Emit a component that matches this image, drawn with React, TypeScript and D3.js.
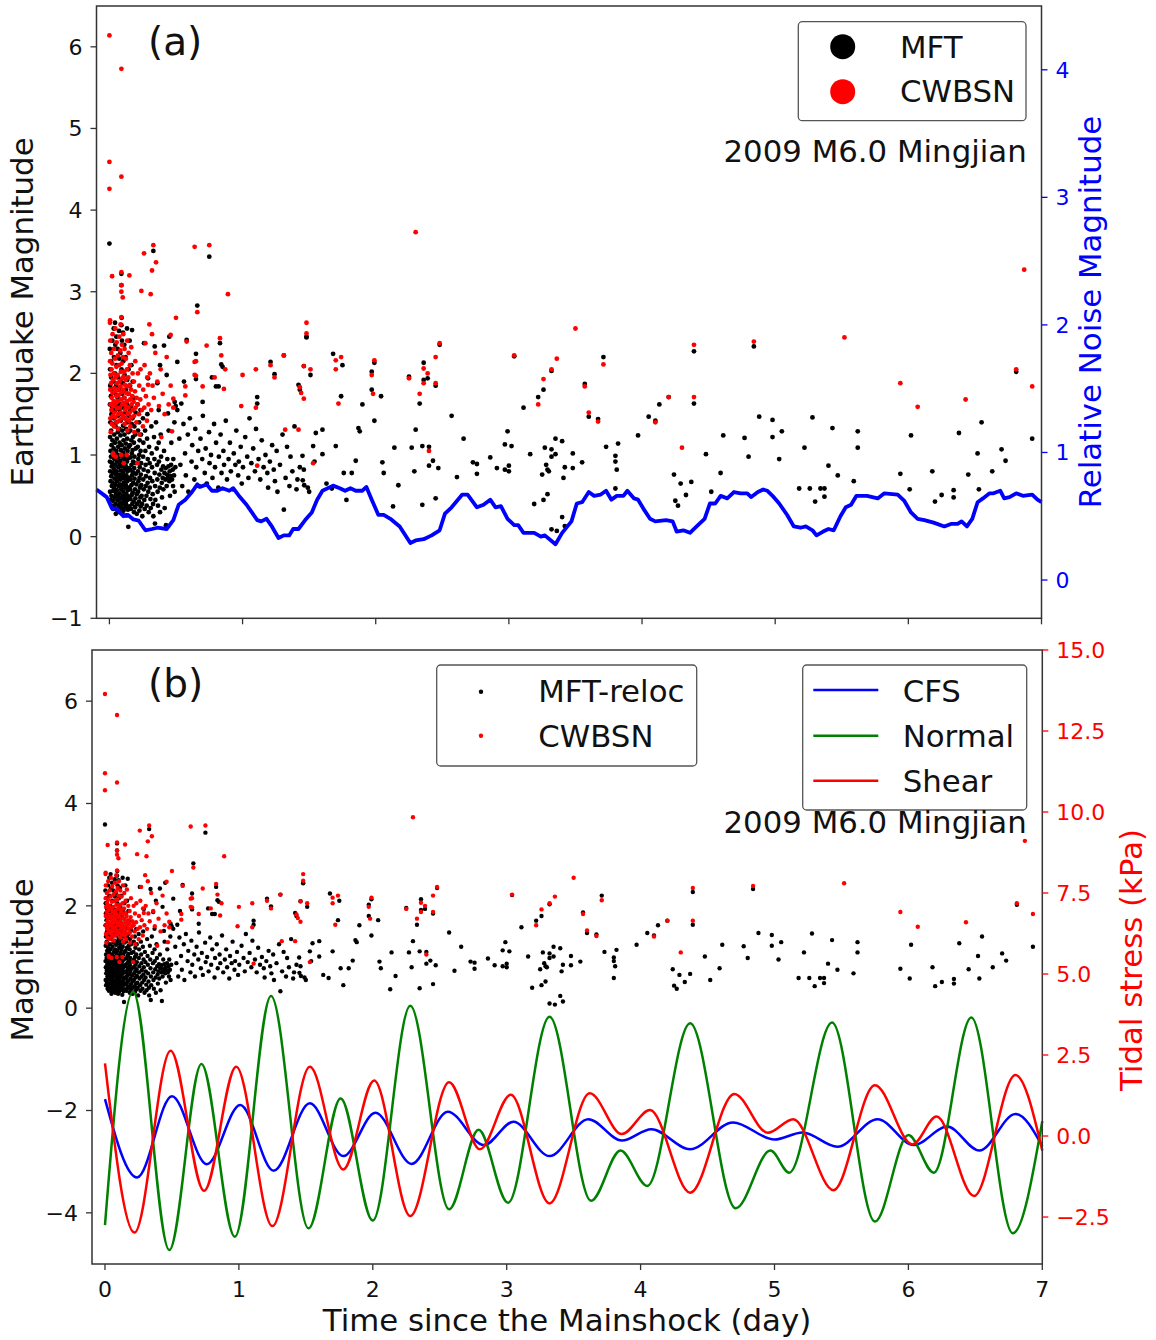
import React from 'react';
import * as d3 from 'd3';

const FONT = "'DejaVu Sans', 'Liberation Sans', sans-serif";
const BLUE = '#0000ff';
const RED = '#ff0000';
const GREEN = '#008000';

// ---------- tick labels ----------
const magTicksA = [-1, 0, 1, 2, 3, 4, 5, 6];
const noiseTicks = [0, 1, 2, 3, 4];
const dayTicks = [0, 1, 2, 3, 4, 5, 6, 7];
const magTicksB = [-4, -2, 0, 2, 4, 6];
const stressTicks = [-2.5, 0, 2.5, 5, 7.5, 10, 12.5, 15];

// ---------- MFT catalogue (time in days, magnitude) ----------
const mftCluster: [number, number][] = [
  [0.003,2.30],[0.005,2.05],[0.006,1.85],[0.004,1.62],[0.007,1.40],[0.005,1.22],[0.008,1.05],[0.004,0.92],[0.006,0.80],[0.009,0.68],[0.005,0.55],[0.008,0.45],
  [0.012,2.15],[0.014,1.95],[0.011,1.72],[0.015,1.50],[0.013,1.30],[0.016,1.12],[0.012,0.98],[0.017,0.86],[0.014,0.74],[0.018,0.62],[0.015,0.50],[0.019,0.38],
  [0.022,2.40],[0.024,1.80],[0.021,1.58],[0.025,1.38],[0.023,1.18],[0.026,1.02],[0.022,0.90],[0.027,0.78],[0.024,0.66],[0.028,0.56],[0.025,0.44],[0.029,0.34],
  [0.032,2.55],[0.034,2.20],[0.031,1.90],[0.035,1.65],[0.033,1.45],[0.036,1.25],[0.032,1.08],[0.037,0.95],[0.034,0.83],[0.038,0.71],[0.035,0.60],[0.039,0.48],[0.036,0.36],
  [0.042,2.62],[0.044,2.35],[0.041,2.00],[0.045,1.75],[0.043,1.55],[0.046,1.35],[0.042,1.15],[0.047,1.00],[0.044,0.88],[0.048,0.76],[0.045,0.64],[0.049,0.52],[0.046,0.40],[0.048,0.28],
  [0.052,2.45],[0.054,2.10],[0.051,1.85],[0.055,1.60],[0.053,1.40],[0.056,1.20],[0.052,1.05],[0.057,0.92],[0.054,0.80],[0.058,0.68],[0.055,0.57],[0.059,0.45],[0.056,0.33],
  [0.062,2.30],[0.064,1.95],[0.061,1.70],[0.065,1.48],[0.063,1.28],[0.066,1.10],[0.062,0.97],[0.067,0.85],[0.064,0.73],[0.068,0.62],[0.065,0.50],[0.069,0.38],
  [0.072,2.52],[0.074,2.18],[0.071,1.80],[0.075,1.55],[0.073,1.32],[0.076,1.15],[0.072,1.00],[0.077,0.88],[0.074,0.76],[0.078,0.64],[0.075,0.53],[0.079,0.42],[0.076,0.30],
  [0.082,2.25],[0.084,1.90],[0.081,1.62],[0.085,1.42],[0.083,1.24],[0.086,1.06],[0.082,0.93],[0.087,0.81],[0.084,0.70],[0.088,0.58],[0.085,0.47],[0.089,0.35],
  [0.092,2.68],[0.094,2.40],[0.091,2.05],[0.095,1.75],[0.093,1.50],[0.096,1.30],[0.092,1.12],[0.097,0.98],[0.094,0.86],[0.098,0.74],[0.095,0.62],[0.099,0.50],[0.096,0.40],[0.098,0.28],
  [0.102,2.50],[0.104,2.15],[0.101,1.88],[0.105,1.58],[0.103,1.36],[0.106,1.18],[0.102,1.03],[0.107,0.90],[0.104,0.78],[0.108,0.66],[0.105,0.55],[0.109,0.44],[0.106,0.32],
  [0.112,2.35],[0.114,1.98],[0.111,1.70],[0.115,1.45],[0.113,1.25],[0.116,1.08],[0.112,0.95],[0.117,0.83],[0.114,0.71],[0.118,0.60],[0.115,0.48],[0.119,0.36],
  [0.122,2.20],[0.124,1.80],[0.121,1.52],[0.125,1.32],[0.123,1.14],[0.126,1.00],[0.122,0.87],[0.127,0.75],[0.124,0.63],[0.128,0.52],[0.125,0.40],[0.129,0.26],
  [0.132,2.55],[0.134,1.92],[0.131,1.62],[0.135,1.40],[0.133,1.20],[0.136,1.05],[0.132,0.92],[0.137,0.80],[0.134,0.68],[0.138,0.57],[0.135,0.45],[0.139,0.33],
  [0.142,0.12],[0.144,2.05],[0.141,1.75],[0.145,1.48],[0.143,1.28],[0.146,1.10],[0.142,0.96],[0.147,0.84],[0.144,0.72],[0.148,0.60],[0.145,0.49],[0.149,0.37],
  [0.152,2.40],[0.155,1.85],[0.153,1.55],[0.157,1.30],[0.154,1.12],[0.158,0.97],[0.156,0.82],[0.159,0.70],[0.155,0.58],[0.158,0.46],[0.162,0.34],
  [0.165,2.10],[0.163,1.60],[0.167,1.38],[0.164,1.18],[0.168,1.02],[0.166,0.88],[0.169,0.75],[0.165,0.63],[0.168,0.51],[0.172,0.40],
  [0.175,1.90],[0.173,1.45],[0.177,1.22],[0.174,1.06],[0.178,0.92],[0.176,0.79],[0.179,0.66],[0.175,0.54],[0.182,0.43],[0.185,0.30],
  [0.183,1.70],[0.187,1.35],[0.184,1.15],[0.188,0.98],[0.186,0.84],[0.189,0.71],[0.192,0.58],[0.195,0.47],[0.193,0.36],
  [0.197,1.52],[0.194,1.25],[0.198,1.08],[0.196,0.90],[0.199,0.77],[0.203,0.64],[0.205,0.52],[0.208,0.40],[0.206,0.28],
  [0.212,1.62],[0.215,1.30],[0.213,1.10],[0.217,0.95],[0.214,0.80],[0.218,0.68],[0.216,0.55],[0.222,0.43],[0.225,0.32],
  [0.223,1.40],[0.227,1.18],[0.224,1.00],[0.228,0.85],[0.226,0.72],[0.229,0.60],[0.232,0.48],[0.235,0.37],
  [0.233,1.55],[0.237,1.25],[0.234,1.05],[0.238,0.90],[0.236,0.76],[0.239,0.63],[0.242,0.50],[0.245,0.40],[0.247,0.25],
  [0.252,1.45],[0.255,1.15],[0.253,0.98],[0.257,0.82],[0.254,0.70],[0.258,0.58],[0.262,0.45],[0.265,0.34],
  [0.268,1.30],[0.270,1.05],[0.272,0.88],[0.275,0.74],[0.273,0.62],[0.278,0.50],[0.280,0.38],
  [0.285,1.50],[0.283,1.20],[0.288,0.95],[0.290,0.80],[0.287,0.66],[0.292,0.55],[0.295,0.30],
  [0.298,1.10],[0.302,0.90],[0.305,0.72],[0.303,0.60],[0.308,0.46],[0.310,0.35],
  [0.315,1.35],[0.318,1.02],[0.320,0.85],[0.322,0.68],[0.325,0.52],[0.328,0.40],[0.330,0.25],
  [0.335,1.22],[0.338,0.95],[0.340,0.78],[0.343,0.62],[0.345,0.45],[0.342,0.16],
  [0.350,1.40],[0.355,1.08],[0.358,0.88],[0.360,0.70],[0.362,0.55],[0.365,0.38],
  [0.370,1.15],[0.372,0.92],[0.375,0.76],[0.378,0.60],[0.380,0.30],
  [0.385,1.25],[0.388,0.98],[0.390,0.82],[0.393,0.66],[0.395,0.48],
  [0.400,0.72],[0.403,0.86],[0.405,0.58],[0.410,1.05],[0.413,0.78],[0.415,0.35],
  [0.420,0.70],[0.423,0.84],[0.425,0.14],[0.430,0.62],[0.433,0.76],[0.435,0.95],
  [0.440,0.72],[0.443,0.86],[0.445,1.30],[0.450,0.68],[0.453,0.80],[0.455,0.50],
  [0.460,0.74],[0.463,0.88],[0.465,1.15],[0.470,0.70],[0.475,0.82],[0.478,0.62],
  [0.480,0.95],[0.485,0.75],[0.488,1.40],[0.490,0.55],[0.495,0.85],[0.498,1.60],
];

const mftSparse: [number, number][] = [
  [0.0,3.59],[0.09,3.22],[0.09,3.08],[0.33,3.50],[0.75,3.43],[0.66,2.83],[0.09,2.59],[0.17,2.53],
  [0.26,2.37],[0.34,2.33],[0.41,2.34],[0.45,2.45],[0.38,2.10],[0.51,2.14],[0.29,1.94],[0.36,1.88],[0.43,1.98],[0.49,1.65],[0.54,1.63],[0.44,1.51],[0.37,1.55],
  [0.58,2.41],[0.65,2.24],[0.65,1.93],[0.56,1.90],[0.77,1.95],[0.80,1.84],[0.82,1.84],[0.85,2.08],[0.70,1.65],[0.83,2.37],[0.84,2.11],
  [0.51,1.55],[0.525,1.20],[0.533,0.88],[0.547,0.62],[0.556,1.38],[0.568,1.02],[0.574,0.75],[0.589,1.25],[0.593,0.55],[0.604,1.45],[0.617,0.92],[0.622,1.12],
  [0.638,0.70],[0.645,1.32],[0.652,0.85],[0.667,1.05],[0.672,0.62],[0.684,1.20],[0.697,0.95],[0.702,1.48],[0.716,0.78],[0.723,1.08],[0.731,0.65],[0.748,1.28],
  [0.752,0.90],[0.763,1.00],[0.774,0.72],[0.786,1.38],[0.793,0.85],[0.801,1.15],[0.818,0.60],[0.822,0.98],[0.835,1.25],[0.842,0.78],[0.856,1.05],[0.861,0.88],
  [0.874,1.42],[0.883,0.70],[0.895,0.95],[0.905,1.15],[0.912,0.80],[0.928,0.58],[0.934,1.02],[0.946,0.88],[0.953,1.30],[0.967,0.75],[0.972,0.92],[0.986,1.10],
  [0.994,0.65],[1.003,0.85],[1.02,1.22],[1.035,0.98],[1.044,0.72],[1.052,1.45],[1.066,0.90],[1.08,1.08],[1.093,0.80],[1.101,1.32],[1.12,0.95],[1.133,0.70],
  [1.11,1.71],[1.11,1.63],[1.21,2.14],[1.24,1.99],[1.31,2.22],[1.42,1.86],[1.43,1.80],[1.46,2.09],[1.51,1.98],[1.48,2.44],[1.48,2.45],
  [1.144,1.18],[1.158,0.85],[1.172,1.00],[1.186,0.78],[1.192,0.60],[1.205,0.92],[1.222,1.12],[1.234,0.82],[1.243,0.68],[1.256,1.05],[1.262,0.55],[1.281,0.88],
  [1.30,1.25],[1.31,0.33],[1.323,0.72],[1.334,1.10],[1.352,0.62],[1.36,0.98],[1.374,0.80],[1.39,1.35],[1.405,0.58],[1.412,0.70],[1.43,0.85],[1.45,0.99],
  [1.46,0.82],[1.452,0.69],[1.463,0.63],[1.49,0.60],[1.50,0.55],[1.53,1.11],[1.54,0.92],[1.55,1.27],[1.60,1.31],[1.60,1.01],[1.63,0.65],[1.67,0.59],
  [1.70,1.11],[1.76,0.78],[1.78,0.45],[1.82,0.78],[1.85,0.93],[1.87,1.33],[1.88,1.29],[1.90,1.62],[1.99,1.42],[2.04,1.72],[1.97,1.80],
  [1.68,2.24],[1.75,2.10],[1.74,1.72],[1.97,2.02],[1.99,2.13],
  [2.05,0.91],[2.06,0.78],[2.17,0.63],[2.13,0.37],[2.14,1.09],[2.25,1.96],[2.30,1.31],[2.33,1.63],[2.27,1.09],[2.29,0.80],[2.35,0.39],[2.35,1.11],
  [2.36,2.13],[2.39,1.94],[2.36,1.92],[2.45,1.85],[2.48,2.35],[2.40,1.10],[2.43,0.93],[2.40,0.87],[2.47,0.84],[2.45,0.47],[2.57,1.48],[2.66,1.20],
  [2.61,0.73],[2.73,0.91],[2.76,0.89],[2.76,0.77],[2.86,0.97],[2.91,0.84],[2.97,0.82],[3.00,0.80],[3.00,0.87],[2.99,1.29],[2.97,1.13],[3.02,1.11],
  [3.04,2.21],[3.11,1.58],[3.16,1.01],[3.19,0.40],[3.22,1.71],[3.26,1.80],[3.32,2.03],[3.27,1.09],[3.25,0.76],[3.26,0.45],[3.29,0.52],[3.28,0.88],
  [3.29,0.82],[3.30,0.80],[3.32,1.07],[3.35,1.20],[3.40,1.17],[3.32,0.98],[3.35,1.01],[3.42,0.85],[3.41,0.72],[3.48,1.02],[3.48,0.84],[3.55,0.91],
  [3.40,0.24],[3.32,0.09],[3.36,0.07],[3.42,0.13],[3.57,1.87],[3.60,1.47],[3.67,1.44],[3.71,2.20],[3.73,1.10],[3.82,1.14],[3.80,0.99],[3.80,0.92],
  [3.81,0.82],[3.80,0.59],[3.97,1.24],[4.05,1.47],[4.10,1.42],[4.13,1.62],[4.20,1.71],[4.24,0.76],[4.29,0.65],[4.33,0.51],[4.37,0.67],[4.25,0.44],
  [4.27,0.38],[4.39,2.27],[4.39,1.63],[4.48,1.01],[4.59,0.78],[4.52,0.55],[4.61,1.24],[4.77,1.21],[4.80,0.98],[4.84,2.33],[4.88,1.47],[4.98,1.43],
  [4.98,1.22],[5.05,1.29],[5.03,0.95],[5.18,0.59],[5.28,1.46],[5.22,1.09],[5.43,1.33],[5.62,1.29],[5.62,1.09],[5.40,0.87],[5.47,0.75],[5.59,0.68],
  [5.26,0.59],[5.30,0.43],[5.34,0.59],[5.37,0.59],[5.37,0.49],[6.02,1.24],[5.94,0.77],[6.01,0.58],[6.18,0.80],[6.20,0.43],[6.25,0.51],[6.34,0.57],
  [6.34,0.48],[6.38,1.27],[6.45,0.76],[6.52,1.02],[6.55,1.40],[6.53,0.58],[6.63,0.80],[6.70,1.07],[6.73,0.93],[6.81,2.02],[6.93,1.20],
];

// ---------- CWBSN catalogue ----------
const cwbCluster: [number, number][] = [
  [0.004,2.62],[0.006,2.40],[0.005,2.15],[0.008,1.98],[0.006,1.80],[0.009,1.62],[0.007,1.45],[0.010,1.28],
  [0.014,2.25],[0.016,2.05],[0.013,1.88],[0.017,1.70],[0.015,1.55],[0.018,1.38],
  [0.024,2.48],[0.022,2.12],[0.026,1.92],[0.023,1.76],[0.027,1.60],[0.025,1.48],[0.028,1.02],
  [0.034,2.30],[0.032,2.00],[0.036,1.82],[0.033,1.66],[0.037,1.52],[0.035,1.35],
  [0.044,2.55],[0.042,2.18],[0.046,1.95],[0.043,1.78],[0.047,1.63],[0.045,1.46],[0.048,0.98],
  [0.054,2.38],[0.052,2.08],[0.056,1.88],[0.053,1.72],[0.057,1.57],[0.055,1.40],
  [0.064,2.22],[0.062,1.98],[0.066,1.80],[0.063,1.66],[0.067,1.50],[0.065,1.32],
  [0.074,2.45],[0.072,2.10],[0.076,1.90],[0.073,1.74],[0.077,1.58],[0.075,1.42],
  [0.084,2.60],[0.082,2.28],[0.086,2.02],[0.083,1.84],[0.087,1.68],[0.085,1.52],[0.088,1.00],
  [0.094,2.35],[0.092,2.12],[0.096,1.94],[0.093,1.77],[0.097,1.62],[0.095,1.45],
  [0.104,2.48],[0.102,2.20],[0.106,1.96],[0.103,1.80],[0.107,1.64],[0.105,1.48],[0.108,0.90],
  [0.114,2.30],[0.112,2.02],[0.116,1.86],[0.113,1.70],[0.117,1.55],[0.115,1.38],
  [0.124,2.18],[0.122,1.92],[0.126,1.76],[0.123,1.60],[0.127,1.44],
  [0.134,2.40],[0.132,2.05],[0.136,1.84],[0.133,1.66],[0.137,1.50],[0.135,1.30],
  [0.144,2.25],[0.142,1.95],[0.146,1.75],[0.143,1.58],[0.147,1.42],
  [0.154,2.10],[0.152,1.86],[0.156,1.68],[0.153,1.52],[0.157,1.35],
  [0.164,2.32],[0.162,1.80],[0.166,1.62],[0.163,1.46],
  [0.174,2.00],[0.172,1.72],[0.176,1.55],[0.184,1.90],[0.182,1.65],[0.186,1.48],[0.188,1.28],
  [0.194,2.15],[0.192,1.78],[0.196,1.58],[0.204,1.70],[0.202,1.40],[0.214,2.00],[0.212,1.62],
  [0.224,1.85],[0.222,1.50],[0.226,1.25],[0.234,2.05],[0.232,1.68],[0.244,1.55],[0.254,1.80],[0.252,1.35],
  [0.264,2.10],[0.262,1.58],[0.274,1.72],[0.284,1.95],[0.282,1.42],[0.294,1.62],[0.304,2.00],[0.314,1.55],
  [0.324,1.85],[0.334,1.70],[0.345,2.25],[0.360,1.90],[0.372,1.60],[0.385,2.05],[0.400,1.75],[0.415,1.50],
  [0.430,2.20],[0.445,1.62],[0.460,1.85],[0.480,1.58],[0.39,1.22],[0.47,1.29],[0.21,0.90],[0.03,1.00],[0.13,1.00],
];

const cwbSparse: [number, number][] = [
  [0.0,6.14],[0.09,5.73],[0.0,4.59],[0.0,4.26],[0.09,4.41],[0.02,3.19],[0.09,3.24],[0.15,3.20],[0.09,3.08],[0.09,3.00],[0.10,2.93],
  [0.26,3.47],[0.33,3.57],[0.35,3.36],[0.32,3.26],[0.31,2.97],[0.24,3.01],[0.64,3.55],[0.75,3.57],[0.89,2.97],[0.66,2.75],[0.50,2.68],
  [0.005,2.65],[0.09,2.69],[0.30,2.60],[0.32,2.48],[0.27,2.37],[0.46,2.47],[0.58,2.39],[0.83,2.43],[0.84,2.22],[0.73,2.34],[0.65,2.15],
  [0.65,1.97],[0.79,1.95],[0.86,1.81],[0.87,2.05],[0.57,1.84],[0.70,1.84],[0.64,2.14],[0.64,1.98],[0.57,1.73],[0.29,1.86],[0.48,1.69],
  [1.00,1.98],[0.99,1.60],[1.10,2.05],[1.10,1.58],[1.21,2.10],[1.24,1.95],[1.31,2.22],[1.43,1.83],[1.44,1.76],[1.46,1.69],[1.46,2.09],
  [1.51,2.05],[1.48,2.49],[1.48,2.62],[1.70,2.16],[1.74,2.20],[1.70,2.05],[1.72,1.63],[1.97,1.98],[1.99,2.16],[1.98,1.75],[1.53,0.90],
  [1.11,0.87],[1.32,1.31],[1.42,1.31],
  [2.30,3.73],[2.25,1.94],[2.33,1.75],[2.36,2.06],[2.39,2.00],[2.36,1.88],[2.45,2.20],[2.45,1.88],[2.48,2.37],[2.40,1.05],
  [3.04,2.22],[3.22,1.62],[3.26,1.93],[3.32,2.05],[3.36,2.18],[3.50,2.55],[3.57,1.84],[3.60,1.52],[3.67,1.41],[3.71,2.11],
  [4.10,1.40],[4.20,1.71],[4.30,1.09],[4.39,2.35],[4.39,1.71],[4.84,2.39],[5.52,2.44],[5.94,1.88],[6.07,1.59],[6.43,1.68],
  [6.81,2.05],[6.93,1.84],[6.87,3.27],
];

// ---------- relative noise magnitude ----------
const noise: [number, number][] = [
  [-0.097,0.71],[-0.02,0.65],[0.02,0.56],[0.05,0.56],[0.105,0.50],[0.14,0.51],[0.18,0.475],[0.22,0.465],[0.27,0.39],[0.32,0.40],[0.36,0.41],
  [0.43,0.40],[0.48,0.47],[0.52,0.59],[0.57,0.63],[0.62,0.69],[0.66,0.75],[0.68,0.73],[0.73,0.75],[0.77,0.70],[0.81,0.70],[0.85,0.72],
  [0.90,0.70],[0.93,0.72],[0.98,0.65],[1.03,0.59],[1.07,0.53],[1.11,0.47],[1.14,0.46],[1.18,0.48],[1.22,0.42],[1.27,0.33],[1.31,0.35],
  [1.35,0.35],[1.38,0.40],[1.42,0.40],[1.47,0.47],[1.52,0.53],[1.56,0.63],[1.60,0.70],[1.68,0.74],[1.73,0.72],[1.77,0.70],[1.81,0.72],
  [1.85,0.70],[1.90,0.70],[1.93,0.73],[1.97,0.63],[2.02,0.51],[2.06,0.51],[2.11,0.48],[2.18,0.42],[2.26,0.29],[2.30,0.31],[2.36,0.32],
  [2.42,0.35],[2.48,0.39],[2.52,0.52],[2.57,0.57],[2.65,0.67],[2.69,0.67],[2.76,0.57],[2.81,0.59],[2.86,0.63],[2.90,0.57],[2.94,0.58],
  [2.99,0.48],[3.04,0.43],[3.07,0.43],[3.11,0.37],[3.19,0.37],[3.24,0.34],[3.27,0.35],[3.35,0.28],[3.40,0.37],[3.47,0.46],[3.51,0.60],
  [3.55,0.61],[3.60,0.69],[3.64,0.66],[3.69,0.67],[3.73,0.70],[3.77,0.63],[3.81,0.66],[3.86,0.66],[3.89,0.70],[3.94,0.64],[3.97,0.63],
  [4.01,0.56],[4.06,0.48],[4.10,0.46],[4.18,0.47],[4.23,0.46],[4.26,0.38],[4.31,0.39],[4.36,0.37],[4.41,0.42],[4.47,0.48],[4.51,0.60],
  [4.55,0.60],[4.59,0.66],[4.64,0.64],[4.69,0.69],[4.74,0.68],[4.79,0.68],[4.82,0.65],[4.87,0.69],[4.91,0.71],[4.94,0.70],[4.98,0.66],
  [5.03,0.60],[5.09,0.51],[5.14,0.42],[5.19,0.41],[5.23,0.42],[5.28,0.39],[5.31,0.35],[5.36,0.38],[5.40,0.40],[5.44,0.39],[5.49,0.50],
  [5.53,0.57],[5.57,0.59],[5.61,0.66],[5.69,0.66],[5.77,0.64],[5.82,0.68],[5.92,0.67],[5.97,0.62],[6.02,0.53],[6.07,0.48],[6.12,0.47],
  [6.19,0.45],[6.27,0.42],[6.32,0.44],[6.37,0.44],[6.40,0.46],[6.44,0.42],[6.48,0.48],[6.52,0.61],[6.56,0.64],[6.61,0.68],[6.64,0.68],
  [6.69,0.70],[6.72,0.64],[6.76,0.65],[6.81,0.68],[6.86,0.66],[6.93,0.67],[6.97,0.63],[7.0,0.61],
];

// ---------- tidal stresses (kPa), turning points ----------
const cfs: [number, number][] = [
  [0,1.14],[0.24,-1.28],[0.50,1.23],[0.76,-0.87],[1.01,0.96],[1.26,-1.07],[1.53,1.01],[1.78,-0.62],[2.02,0.72],[2.29,-0.86],
  [2.56,0.75],[2.83,-0.28],[3.05,0.44],[3.32,-0.62],[3.61,0.52],[3.86,-0.14],[4.08,0.21],[4.37,-0.41],[4.69,0.42],[5.0,-0.11],
  [5.21,0.11],[5.47,-0.33],[5.77,0.52],[6.04,-0.28],[6.29,0.29],[6.53,-0.45],[6.80,0.68],[7.0,-0.31],
];
const normal: [number, number][] = [
  [0,-2.75],[0.21,4.45],[0.48,-3.52],[0.72,2.22],[0.97,-3.11],[1.24,4.32],[1.52,-2.85],[1.76,1.16],[2.0,-2.61],[2.28,4.02],
  [2.57,-2.26],[2.79,0.19],[3.01,-2.06],[3.32,3.68],[3.63,-2.0],[3.85,-0.45],[4.05,-1.54],[4.37,3.48],[4.71,-2.23],[4.97,-0.45],
  [5.11,-1.13],[5.43,3.50],[5.75,-2.64],[6.0,0.03],[6.19,-1.13],[6.47,3.66],[6.78,-3.0],[7.0,0.46],
];
const shear: [number, number][] = [
  [0,2.24],[0.22,-2.98],[0.49,2.63],[0.74,-1.69],[0.98,2.14],[1.25,-2.78],[1.53,2.14],[1.78,-1.03],[2.01,1.71],[2.28,-2.47],
  [2.57,1.66],[2.80,-0.41],[3.03,1.27],[3.32,-2.08],[3.62,1.32],[3.86,0.06],[4.07,0.80],[4.37,-1.75],[4.70,1.30],[4.95,0.10],
  [5.14,0.52],[5.44,-1.67],[5.75,1.57],[6.03,-0.26],[6.21,0.60],[6.49,-1.85],[6.80,1.88],[7.0,-0.45],
];

const minus = (s: string) => s.replace('-', '\u2212');

export default function App() {
  // panel (a)
  const A = { l: 96.5, r: 1041.5, t: 6, b: 618.3 };
  const xA = d3.scaleLinear().domain([-0.097, 7]).range([A.l, A.r]);
  const yA = d3.scaleLinear().domain([-1, 6.5]).range([A.b, A.t]);
  const yN = d3.scaleLinear().domain([-0.3, 4.5]).range([A.b, A.t]);
  // panel (b)
  const B = { l: 92, r: 1042.3, t: 650, b: 1264 };
  const xB = d3.scaleLinear().domain([-0.097, 7]).range([B.l, B.r]);
  const yB = d3.scaleLinear().domain([-5, 7]).range([B.b, B.t]);
  const yS = d3.scaleLinear().domain([-3.95, 15]).range([B.b, B.t]);

  const noiseLine = d3.line<[number, number]>().x(d => xA(d[0])).y(d => yN(d[1]));
  const tideLine = d3.line<[number, number]>().x(d => xB(d[0])).y(d => yS(d[1])).curve(d3.curveMonotoneX);

  const mft = [...mftCluster, ...mftSparse];
  const cwb = [...cwbCluster, ...cwbSparse];
  const tickFont = 22;
  const labFont = 30.8;
  const frame = '#333';

  return (
    <svg width={1156} height={1340} style={{ position: 'absolute', left: 0, top: 0, background: '#fff' }} fontFamily={FONT}>
      <rect x={0} y={0} width={1156} height={1340} fill="#fff" />
      {/* ===== Panel (a) ===== */}
      <g>
        {mft.map((d, i) => <circle key={'am' + i} cx={xA(d[0])} cy={yA(d[1])} r={2.4} fill="#000" />)}
        {cwb.map((d, i) => <circle key={'ac' + i} cx={xA(d[0])} cy={yA(d[1])} r={2.4} fill={RED} />)}
        <path d={noiseLine(noise) || ''} fill="none" stroke={BLUE} strokeWidth={3.8} strokeLinejoin="round" />
        <rect x={A.l} y={A.t} width={A.r - A.l} height={A.b - A.t} fill="none" stroke={frame} strokeWidth={1.5} />
        {magTicksA.map(v => (
          <g key={'ya' + v}>
            <line x1={A.l - 6} x2={A.l} y1={yA(v)} y2={yA(v)} stroke={frame} strokeWidth={1.3} />
            <text x={A.l - 14} y={yA(v)} dy="0.36em" textAnchor="end" fontSize={tickFont} fill="#111">{minus(String(v))}</text>
          </g>
        ))}
        {noiseTicks.map(v => (
          <g key={'yn' + v}>
            <line x1={A.r} x2={A.r + 6} y1={yN(v)} y2={yN(v)} stroke={BLUE} strokeWidth={1.3} />
            <text x={A.r + 14} y={yN(v)} dy="0.36em" textAnchor="start" fontSize={tickFont} fill={BLUE}>{String(v)}</text>
          </g>
        ))}
        {dayTicks.map(v => (
          <line key={'xa' + v} x1={xA(v)} x2={xA(v)} y1={A.b} y2={A.b + 6} stroke={frame} strokeWidth={1.3} />
        ))}
        <text transform={`translate(33,312) rotate(-90)`} textAnchor="middle" fontSize={labFont} fill="#111">Earthquake Magnitude</text>
        <text transform={`translate(1101,312) rotate(-90)`} textAnchor="middle" fontSize={labFont} fill={BLUE}>Relative Noise Magnitude</text>
        <text x={148} y={55} fontSize={39} fill="#111">(a)</text>
        {/* legend */}
        <rect x={798.3} y={21.7} width={227.7} height={99} rx={4} fill="#fff" fillOpacity={0.8} stroke="#555" strokeWidth={1.3} />
        <circle cx={842.7} cy={46.7} r={12.5} fill="#000" />
        <circle cx={842.7} cy={91.7} r={12.5} fill={RED} />
        <text x={900} y={57.5} fontSize={labFont} fill="#111">MFT</text>
        <text x={900} y={102} fontSize={labFont} fill="#111">CWBSN</text>
        <text x={1026.7} y={161.7} textAnchor="end" fontSize={labFont} fill="#111">2009 M6.0 Mingjian</text>
      </g>

      {/* ===== Panel (b) ===== */}
      <g>
        {mft.map((d, i) => <circle key={'bm' + i} cx={xB(d[0])} cy={yB(d[1])} r={2.2} fill="#000" />)}
        {cwb.map((d, i) => <circle key={'bc' + i} cx={xB(d[0])} cy={yB(d[1])} r={2.2} fill={RED} />)}
        <path d={tideLine(cfs) || ''} fill="none" stroke={BLUE} strokeWidth={2.5} />
        <path d={tideLine(normal) || ''} fill="none" stroke={GREEN} strokeWidth={2.5} />
        <path d={tideLine(shear) || ''} fill="none" stroke={RED} strokeWidth={2.5} />
        <rect x={B.l} y={B.t} width={B.r - B.l} height={B.b - B.t} fill="none" stroke={frame} strokeWidth={1.5} />
        {magTicksB.map(v => (
          <g key={'yb' + v}>
            <line x1={B.l - 6} x2={B.l} y1={yB(v)} y2={yB(v)} stroke={frame} strokeWidth={1.3} />
            <text x={B.l - 14} y={yB(v)} dy="0.36em" textAnchor="end" fontSize={tickFont} fill="#111">{minus(String(v))}</text>
          </g>
        ))}
        {stressTicks.map(v => (
          <g key={'ys' + v}>
            <line x1={B.r} x2={B.r + 6} y1={yS(v)} y2={yS(v)} stroke={RED} strokeWidth={1.3} />
            <text x={B.r + 14} y={yS(v)} dy="0.36em" textAnchor="start" fontSize={tickFont} fill={RED}>{minus(d3.format('.1f')(v))}</text>
          </g>
        ))}
        {dayTicks.map(v => (
          <g key={'xb' + v}>
            <line x1={xB(v)} x2={xB(v)} y1={B.b} y2={B.b + 6} stroke={frame} strokeWidth={1.3} />
            <text x={xB(v)} y={1296.5} textAnchor="middle" fontSize={tickFont} fill="#111">{String(v)}</text>
          </g>
        ))}
        <text x={567} y={1331} textAnchor="middle" fontSize={labFont} fill="#111">Time since the Mainshock (day)</text>
        <text transform={`translate(33,960) rotate(-90)`} textAnchor="middle" fontSize={labFont} fill="#111">Magnitude</text>
        <text transform={`translate(1142,960) rotate(-90)`} textAnchor="middle" fontSize={labFont} fill={RED}>Tidal stress (kPa)</text>
        <text x={148} y={697} fontSize={39} fill="#111">(b)</text>
        {/* legend 1 */}
        <rect x={436.7} y={665} width={260} height={101} rx={4} fill="#fff" fillOpacity={0.8} stroke="#555" strokeWidth={1.3} />
        <circle cx={481} cy={691.7} r={2.2} fill="#000" />
        <circle cx={481} cy={735.7} r={2.2} fill={RED} />
        <text x={538.3} y={702} fontSize={labFont} fill="#111">MFT-reloc</text>
        <text x={538.3} y={746.5} fontSize={labFont} fill="#111">CWBSN</text>
        {/* legend 2 */}
        <rect x={802.7} y={665} width={224} height={145} rx={4} fill="#fff" fillOpacity={0.8} stroke="#555" strokeWidth={1.3} />
        <line x1={813.3} x2={878.3} y1={690} y2={690} stroke={BLUE} strokeWidth={2.5} />
        <line x1={813.3} x2={878.3} y1={735.7} y2={735.7} stroke={GREEN} strokeWidth={2.5} />
        <line x1={813.3} x2={878.3} y1={780.7} y2={780.7} stroke={RED} strokeWidth={2.5} />
        <text x={902.7} y={701.7} fontSize={labFont} fill="#111">CFS</text>
        <text x={902.7} y={746.7} fontSize={labFont} fill="#111">Normal</text>
        <text x={902.7} y={791.7} fontSize={labFont} fill="#111">Shear</text>
        <text x={1026.7} y={833.3} textAnchor="end" fontSize={labFont} fill="#111">2009 M6.0 Mingjian</text>
      </g>
    </svg>
  );
}
